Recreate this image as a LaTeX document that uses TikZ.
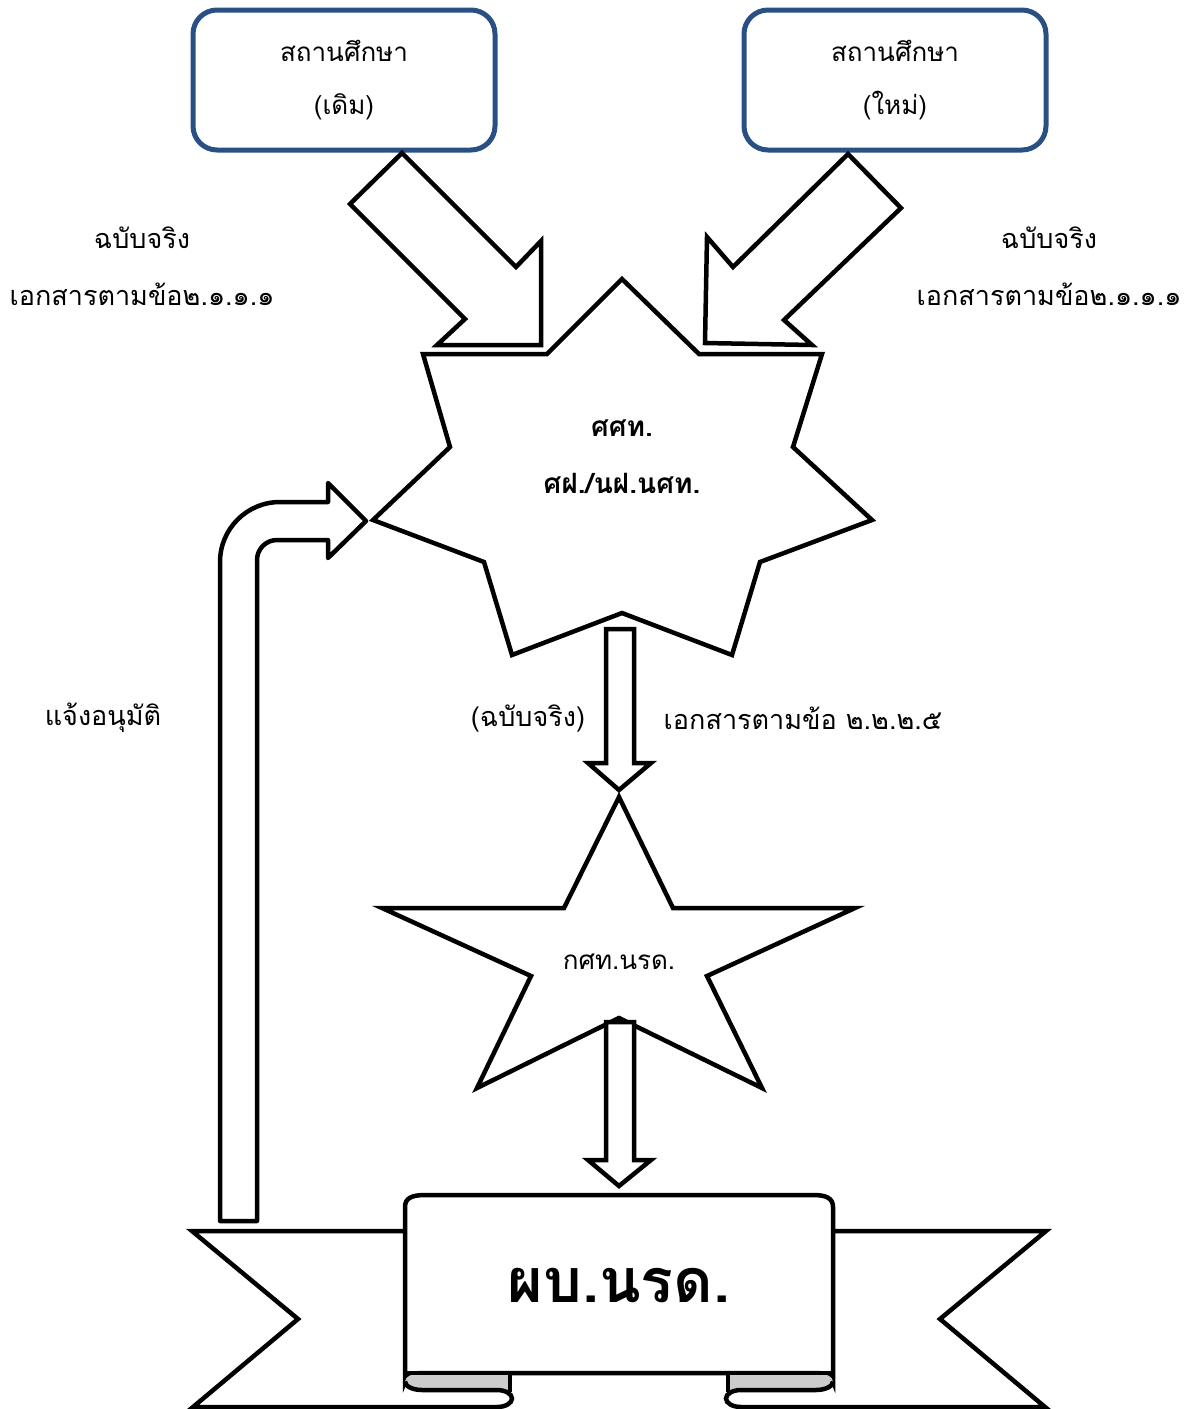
\documentclass[tikz,border=0pt]{standalone}
\usepackage{fontspec}
\newfontfamily\thaifont[Script=Thai]{Loma}
\usetikzlibrary{positioning}
\definecolor{boxblue}{RGB}{41,80,133}
\definecolor{rollgray}{RGB}{204,204,204}
\newcommand{\thaitext}{\thaifont\fontsize{26}{53}\selectfont}
\newcommand{\notetext}{\thaifont\fontsize{27}{57}\selectfont}
\newcommand{\depttext}{\thaifont\fontsize{26}{57}\selectfont}
\newcommand{\hubtext}{\thaifont\bfseries\fontsize{28}{57}\selectfont}
\newcommand{\hqtext}{\thaifont\bfseries\fontsize{61}{66}\selectfont}
\tikzset{
    outline/.style={draw=black, line width=4.5pt, fill=white, line join=miter},
    schoolbox/.style={draw=boxblue, line width=5pt, rounded corners=24pt, minimum width=302pt, minimum height=140pt, align=center, font=\thaitext},
    labeltext/.style={inner sep=0pt, align=center, font=\notetext},
}

\begin{document}
\begin{tikzpicture}[x=1pt, y=-1pt]
                    \useasboundingbox (0, 0) rectangle (1189, 1409);

                    \node[schoolbox] (oldschool) at (344, 80) {สถานศึกษา\\(เดิม)};
                    \node[schoolbox] (newschool) at (895, 80) {สถานศึกษา\\(ใหม่)};

                    \draw[outline]
                    (402, 153) -- (516, 267) -- (541, 241) -- (541, 345) -- (437, 345) -- (465, 319) -- (350, 204) -- cycle;
                    \draw[outline]
                    (848, 154) -- (901, 208) -- (784, 320) -- (812, 345) -- (705, 343) -- (707, 237) -- (733, 267) -- cycle;

                    \draw[outline]
                    (622, 279) -- (699, 354) -- (822, 354) -- (793, 447) -- (872, 520) -- (760, 562) -- (732, 655)
                    -- (622, 613) -- (512, 655) -- (484, 562) -- (373, 520) -- (450, 447) -- (423, 354) -- (547, 354) -- cycle;
                    \node[labeltext, font=\hubtext] (hub) at (622, 457) {ศศท.\\ศฝ./นฝ.นศท.};

                    \draw[outline]
                    (606, 629) -- (634, 629) -- (634, 763) -- (651, 763) -- (619, 790) -- (588, 763) -- (606, 763) -- cycle;

                    \draw[outline]
                    (619, 797) -- (673, 908) -- (855, 908) -- (707, 976) -- (762, 1088) -- (619, 1018)
                    -- (477, 1088) -- (531, 976) -- (382, 908) -- (564, 908) -- cycle;
                    \node[labeltext, font=\depttext] (dept) at (619, 962) {กศท.นรด.};

                    \draw[outline]
                    (606, 1022) -- (634, 1022) -- (634, 1160) -- (651, 1160) -- (619, 1186) -- (588, 1160) -- (606, 1160) -- cycle;

                    \draw[outline, line join=round]
                    (220, 1221) -- (220, 562) arc[start angle=180, end angle=270, radius=60] -- (328, 502) -- (328, 483)
                    -- (366, 521) -- (328, 558) -- (328, 540) -- (277, 540) arc[start angle=270, end angle=180, radius=20]
                    -- (257, 1221) -- cycle;

                    \draw[outline]
                    (405, 1231) -- (192, 1231) -- (298, 1319) -- (193, 1407) -- (497, 1407);
                    \draw[outline]
                    (833, 1231) -- (1046, 1231) -- (940, 1319) -- (1045, 1407) -- (741, 1407);

                    \draw[outline]
                    (405, 1381.5) -- (405, 1207) .. controls (405, 1198) and (412, 1195) .. (425, 1195) -- (813, 1195)
                    .. controls (826, 1195) and (833, 1198) .. (833, 1207) -- (833, 1381.5)
                    arc[start angle=0, end angle=-90, x radius=17, y radius=8.5] -- (422, 1373)
                    arc[start angle=270, end angle=180, x radius=17, y radius=8.5] -- cycle;

                    \fill[rollgray]
                    (510, 1373) -- (422, 1373) arc[start angle=270, end angle=90, x radius=17, y radius=8.5] -- (510, 1390) -- cycle;
                    \fill[rollgray]
                    (728, 1373) -- (816, 1373) arc[start angle=270, end angle=450, x radius=17, y radius=8.5] -- (728, 1390) -- cycle;

                    \draw[line width=4.5pt]
                    (405, 1373) -- (833, 1373)
                    (510, 1373) -- (510, 1392)
                    (728, 1373) -- (728, 1392);
                    \draw[line width=4.5pt]
                    (405, 1381.5) arc[start angle=180, end angle=90, x radius=17, y radius=8.5] -- (497, 1390)
                    arc[start angle=-90, end angle=90, x radius=15, y radius=8.5];
                    \draw[line width=4.5pt]
                    (833, 1381.5) arc[start angle=0, end angle=90, x radius=17, y radius=8.5] -- (741, 1390)
                    arc[start angle=270, end angle=90, x radius=15, y radius=8.5];

                    \node[labeltext, font=\hqtext] (hq) at (619, 1285) {ผบ.นรด.};

                    \node[labeltext] (leftnote) at (142, 266) {ฉบับจริง\\เอกสารตามข้อ๒.๑.๑.๑};
                    \node[labeltext] (rightnote) at (1049, 266) {ฉบับจริง\\เอกสารตามข้อ๒.๑.๑.๑};
                    \node[labeltext] (approve) at (103, 718) {แจ้งอนุมัติ};
                    \node[labeltext] (original) at (528, 718) {(ฉบับจริง)};
                    \node[labeltext] (docs) at (803, 718) {เอกสารตามข้อ ๒.๒.๒.๕};
\end{tikzpicture}
\end{document}
